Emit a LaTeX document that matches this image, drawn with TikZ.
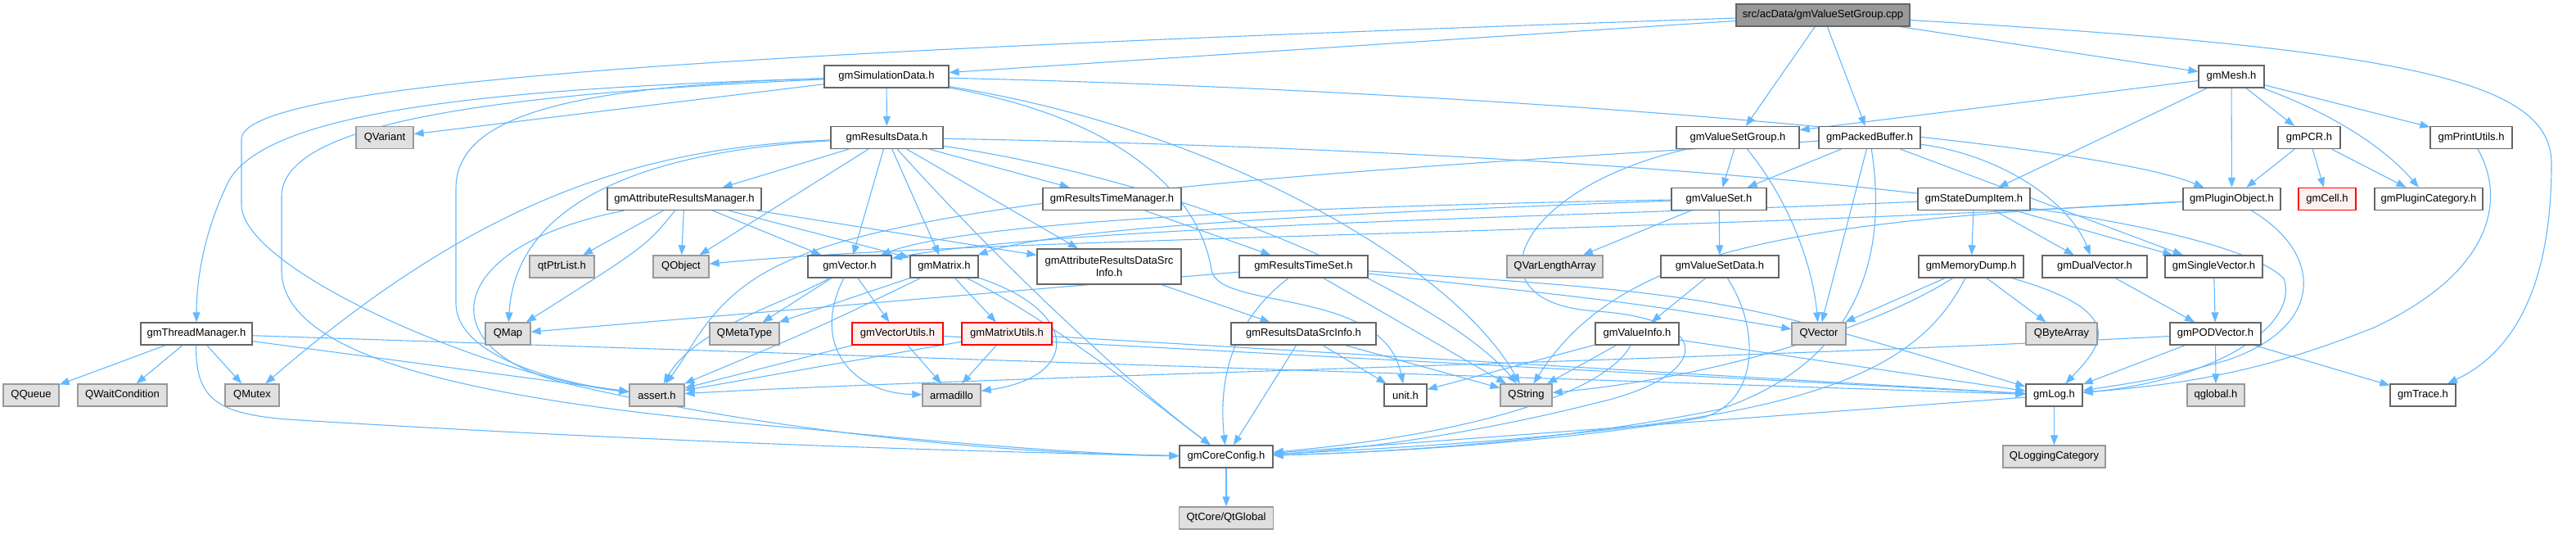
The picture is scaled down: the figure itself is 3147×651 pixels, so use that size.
\documentclass[tikz,border=0pt]{standalone}
\usepackage{fontspec}
\setmainfont{Liberation Sans}
\usepackage{tikz}
\usetikzlibrary{positioning, arrows.meta, backgrounds}
\definecolor{edgeblue}{HTML}{63B8FF}
\definecolor{boxgray}{HTML}{666666}
\definecolor{extgray}{HTML}{999999}
\definecolor{extfill}{HTML}{E0E0E0}
\definecolor{redfill}{HTML}{FFF0F0}
\tikzstyle{header} = [rectangle, minimum height=27pt, inner sep=0pt, text centered, draw=boxgray, fill=white, line width=1.3pt]
\tikzstyle{extern} = [header, draw=extgray, fill=extfill]
\tikzstyle{rootfile} = [header, draw=boxgray, fill=extgray]
\tikzstyle{missing} = [header, draw=red, fill=redfill]
\tikzstyle{arrow} = [line width=1.1pt, draw=edgeblue, ->, >={Triangle[length=12pt,width=9pt]}]
\tikzstyle{every node}=[font=\fontsize{13}{15}\selectfont]

\begin{document}
\begin{tikzpicture}[x=1pt, y=-1pt, node distance=75pt]
		\useasboundingbox (0,0) rectangle (3147,651);
		\node (root) [rootfile, minimum width=212pt] at (2227,18.5) {src/acData/gmValueSetGroup.cpp};
		\node (simdata) [header, minimum width=152pt] at (1083,93.5) {gmSimulationData.h};
		\node (mesh) [header, minimum width=80pt] at (2726,93.5) {gmMesh.h};
		\node (qvariant) [extern, minimum width=70pt] at (470,168) {QVariant};
		\node (resdata) [header, minimum width=137pt] at (1083.5,168) {gmResultsData.h};
		\node (vsgroup) [header, minimum width=150pt] at (2123,168) {gmValueSetGroup.h};
		\node (packbuf) [header, minimum width=124pt] at (2284,168) {gmPackedBuffer.h};
		\node (pcr) [header, minimum width=76pt] at (2821,168) {gmPCR.h};
		\node (printutils) [header, minimum width=100pt] at (3019,168) {gmPrintUtils.h};
		\node (attrmgr) [header, minimum width=188pt] at (836,243) {gmAttributeResultsManager.h};
		\node (restimemgr) [header, minimum width=169pt] at (1358.5,243) {gmResultsTimeManager.h};
		\node (valueset) [header, minimum width=116pt] at (2100,243) {gmValueSet.h};
		\node (statedump) [header, minimum width=137pt] at (2411.5,243) {gmStateDumpItem.h};
		\node (pluginobj) [header, minimum width=119pt] at (2726.5,243) {gmPluginObject.h};
		\node (cell) [missing, minimum width=70pt] at (2843,243) {gmCell.h};
		\node (plugincat) [header, minimum width=132pt] at (2967,243) {gmPluginCategory.h};
		\node (qtptrlist) [extern, minimum width=79pt] at (686.5,325.5) {qtPtrList.h};
		\node (qobject) [extern, minimum width=68pt] at (832,325.5) {QObject};
		\node (vector) [header, minimum width=102pt] at (1038,325.5) {gmVector.h};
		\node (matrix) [header, minimum width=83pt] at (1153.5,325.5) {gmMatrix.h};
		\node (attrsrc) [header, minimum width=176pt, minimum height=43pt, align=center] at (1355,325.5) {gmAttributeResultsDataSrc\\Info.h};
		\node (restimeset) [header, minimum width=157pt] at (1592.5,325.5) {gmResultsTimeSet.h};
		\node (qvarlen) [extern, minimum width=117pt] at (1899.5,325.5) {QVarLengthArray};
		\node (vsdata) [header, minimum width=144pt] at (2101,325.5) {gmValueSetData.h};
		\node (memdump) [header, minimum width=128pt] at (2408,325.5) {gmMemoryDump.h};
		\node (dualvec) [header, minimum width=128pt] at (2559,325.5) {gmDualVector.h};
		\node (singlevec) [header, minimum width=119pt] at (2704.5,325.5) {gmSingleVector.h};
		\node (threadmgr) [header, minimum width=136pt] at (240,407.5) {gmThreadManager.h};
		\node (qmap) [extern, minimum width=55pt] at (620.5,407.5) {QMap};
		\node (qmetatype) [extern, minimum width=85pt] at (909.5,407.5) {QMetaType};
		\node (vecutils) [missing, minimum width=111pt] at (1096.5,407.5) {gmVectorUtils.h};
		\node (matutils) [missing, minimum width=110pt] at (1230,407.5) {gmMatrixUtils.h};
		\node (ressrcinfo) [header, minimum width=177pt] at (1592.5,407.5) {gmResultsDataSrcInfo.h};
		\node (valueinfo) [header, minimum width=102pt] at (2000,407.5) {gmValueInfo.h};
		\node (qvector) [extern, minimum width=66pt] at (2222,407.5) {QVector};
		\node (qbytearray) [extern, minimum width=87pt] at (2518.5,407.5) {QByteArray};
		\node (podvec) [header, minimum width=111pt] at (2706.5,407.5) {gmPODVector.h};
		\node (qqueue) [extern, minimum width=68pt] at (38,482.5) {QQueue};
		\node (qwait) [extern, minimum width=109pt] at (149.5,482.5) {QWaitCondition};
		\node (qmutex) [extern, minimum width=66pt] at (308,482.5) {QMutex};
		\node (assert) [extern, minimum width=67pt] at (802.5,482.5) {assert.h};
		\node (armadillo) [extern, minimum width=71pt] at (1162.5,482.5) {armadillo};
		\node (unit) [header, minimum width=52pt] at (1717,482.5) {unit.h};
		\node (qstring) [extern, minimum width=63pt] at (1864.5,482.5) {QString};
		\node (log) [header, minimum width=69pt] at (2509.5,482.5) {gmLog.h};
		\node (qglobal) [extern, minimum width=70pt] at (2707,482.5) {qglobal.h};
		\node (trace) [header, minimum width=80pt] at (2960,482.5) {gmTrace.h};
		\node (coreconfig) [header, minimum width=114pt] at (1498,557.5) {gmCoreConfig.h};
		\node (qlogging) [extern, minimum width=125pt, below of=log] {QLoggingCategory};
		\node (qtglobal) [extern, minimum width=115pt, below of=coreconfig] {QtCore/QtGlobal};
		\begin{pgfonlayer}{background}
		\draw [arrow](root) -- (simdata);
		\draw [arrow](root) -- (vsgroup);
		\draw [arrow](root) -- (packbuf);
		\draw [arrow](root) -- (mesh);
		\draw [arrow](root) .. controls (2950,60) and (3117,100) .. (3117,200) .. controls (3117,380) and (3050,440) .. (trace);
		\draw [arrow](root) .. controls (1000,60) and (295,95) .. (295,170) -- (295,250) .. controls (295,330) and (600,460) .. (assert);
		\draw [arrow](simdata) -- (qvariant);
		\draw [arrow](simdata) -- (resdata);
		\draw [arrow](simdata) .. controls (600,108) and (330,135) .. (280,220) .. controls (250,280) and (240,340) .. (threadmgr);
		\draw [arrow](simdata) .. controls (700,105) and (557,140) .. (557,230) -- (557,370) .. controls (557,440) and (700,470) .. (assert);
		\draw [arrow](simdata) .. controls (600,115) and (344,150) .. (344,240) -- (344,330) .. controls (344,460) and (700,500) .. (1000,525) .. controls (1200,545) and (1350,555) .. (coreconfig);
		\draw [arrow](simdata) .. controls (1800,110) and (2550,170) .. (pluginobj);
		\draw [arrow](simdata) .. controls (1500,160) and (1780,330) .. (qstring);
		\draw [arrow](simdata) .. controls (1400,150) and (1470,260) .. (1480,330) .. controls (1490,380) and (1690,350) .. (unit);
		\draw [arrow](mesh) -- (vsgroup);
		\draw [arrow](mesh) -- (statedump);
		\draw [arrow](mesh) -- (pluginobj);
		\draw [arrow](mesh) -- (pcr);
		\draw [arrow](mesh) .. controls (2880,150) and (2930,200) .. (plugincat);
		\draw [arrow](mesh) -- (printutils);
		\draw [arrow](pcr) -- (pluginobj);
		\draw [arrow](pcr) -- (cell);
		\draw [arrow](pcr) -- (plugincat);
		\draw [arrow](printutils) .. controls (3060,240) and (3050,330) .. (2900,400) .. controls (2750,460) and (2650,470) .. (log);
		\draw [arrow](pluginobj) .. controls (2840,310) and (2840,400) .. (2720,440) .. controls (2640,462) .. (log);
		\draw [arrow](pluginobj) .. controls (2200,270) and (1980,300) .. (qstring);
		\draw [arrow](pluginobj) .. controls (2000,285) and (1200,290) .. (qobject);
		\draw [arrow](vsgroup) -- (valueset);
		\draw [arrow](vsgroup) .. controls (2190,250) and (2215,330) .. (qvector);
		\draw [arrow](vsgroup) .. controls (1850,230) and (1790,370) .. (1950,380) .. controls (2100,390) and (2090,460) .. (1950,492) .. controls (1800,530) and (1650,550) .. (coreconfig);
		\draw [arrow](packbuf) -- (valueset);
		\draw [arrow](packbuf) -- (qvector);
		\draw [arrow](packbuf) .. controls (2305,300) and (2280,440) .. (2100,500) .. controls (1900,540) and (1700,552) .. (coreconfig);
		\draw [arrow](packbuf) .. controls (2450,190) and (2530,250) .. (dualvec);
		\draw [arrow](packbuf) -- (singlevec);
		\draw [arrow](packbuf) .. controls (1800,200) and (1150,230) .. (960,320) .. controls (870,360) and (850,420) .. (assert);
		\draw [arrow](resdata) -- (attrmgr);
		\draw [arrow](resdata) -- (restimemgr);
		\draw [arrow](resdata) -- (qobject);
		\draw [arrow](resdata) -- (vector);
		\draw [arrow](resdata) -- (matrix);
		\draw [arrow](resdata) -- (attrsrc);
		\draw [arrow](resdata) .. controls (800,180) and (600,230) .. (qmutex);
		\draw [arrow](resdata) .. controls (780,185) and (630,250) .. (qmap);
		\draw [arrow](resdata) .. controls (2000,185) and (2700,250) .. (2790,340) .. controls (2810,400) and (2700,465) .. (log);
		\draw [arrow](resdata) .. controls (1500,230) and (1780,380) .. (qstring);
		\draw [arrow](resdata) .. controls (1220,320) and (1380,470) .. (coreconfig);
		\draw [arrow](attrmgr) -- (qtptrlist);
		\draw [arrow](attrmgr) -- (qobject);
		\draw [arrow](attrmgr) -- (vector);
		\draw [arrow](attrmgr) -- (matrix);
		\draw [arrow](attrmgr) -- (attrsrc);
		\draw [arrow](attrmgr) .. controls (790,300) .. (qmap);
		\draw [arrow](attrmgr) .. controls (540,300) and (520,430) .. (700,470) .. controls (1000,540) and (1300,555) .. (coreconfig);
		\draw [arrow](restimemgr) -- (restimeset);
		\draw [arrow](attrsrc) -- (ressrcinfo);
		\draw [arrow](restimeset) -- (qmap);
		\draw [arrow](restimeset) -- (qstring);
		\draw [arrow](restimeset) .. controls (2100,360) .. (log);
		\draw [arrow](restimeset) .. controls (2000,370) .. (qvector);
		\draw [arrow](restimeset) .. controls (1495,400) and (1490,480) .. (coreconfig);
		\draw [arrow](ressrcinfo) -- (coreconfig);
		\draw [arrow](ressrcinfo) -- (unit);
		\draw [arrow](ressrcinfo) -- (qstring);
		\draw [arrow](vector) -- (qmetatype);
		\draw [arrow](vector) -- (vecutils);
		\draw [arrow](vector) .. controls (960,370) and (850,400) .. (assert);
		\draw [arrow](vector) .. controls (990,420) and (1040,480) .. (armadillo);
		\draw [arrow](matrix) -- (qmetatype);
		\draw [arrow](matrix) -- (matutils);
		\draw [arrow](matrix) .. controls (1000,400) .. (assert);
		\draw [arrow](matrix) .. controls (1320,380) and (1320,460) .. (armadillo);
		\draw [arrow](matrix) .. controls (1300,400) and (1420,500) .. (coreconfig);
		\draw [arrow](vecutils) -- (armadillo);
		\draw [arrow](vecutils) -- (assert);
		\draw [arrow](vecutils) -- (log);
		\draw [arrow](matutils) -- (armadillo);
		\draw [arrow](matutils) -- (assert);
		\draw [arrow](matutils) -- (log);
		\draw [arrow](valueset) -- (vsdata);
		\draw [arrow](valueset) -- (qvarlen);
		\draw [arrow](valueset) .. controls (1700,250) and (1200,265) .. (vector);
		\draw [arrow](valueset) .. controls (1700,258) and (1300,275) .. (matrix);
		\draw [arrow](statedump) -- (memdump);
		\draw [arrow](statedump) -- (dualvec);
		\draw [arrow](statedump) -- (singlevec);
		\draw [arrow](statedump) .. controls (2000,262) and (1300,275) .. (vector);
		\draw [arrow](vsdata) -- (valueinfo);
		\draw [arrow](vsdata) .. controls (2150,400) and (2150,490) .. (2080,510) .. controls (1900,540) and (1700,552) .. (coreconfig);
		\draw [arrow](valueinfo) -- (unit);
		\draw [arrow](valueinfo) -- (qstring);
		\draw [arrow](valueinfo) -- (log);
		\draw [arrow](valueinfo) .. controls (1960,480) and (1800,530) .. (coreconfig);
		\draw [arrow](memdump) -- (qvector);
		\draw [arrow](memdump) -- (qbytearray);
		\draw [arrow](memdump) .. controls (2600,380) and (2570,420) .. (log);
		\draw [arrow](memdump) .. controls (2290,400) and (2100,460) .. (qstring);
		\draw [arrow](memdump) .. controls (2330,480) and (2150,525) .. (coreconfig);
		\draw [arrow](dualvec) -- (podvec);
		\draw [arrow](singlevec) -- (podvec);
		\draw [arrow](podvec) -- (qglobal);
		\draw [arrow](podvec) -- (trace);
		\draw [arrow](podvec) -- (log);
		\draw [arrow](podvec) .. controls (2100,440) and (1200,460) .. (assert);
		\draw [arrow](threadmgr) -- (qqueue);
		\draw [arrow](threadmgr) -- (qwait);
		\draw [arrow](threadmgr) -- (qmutex);
		\draw [arrow](threadmgr) -- (assert);
		\draw [arrow](threadmgr) -- (log);
		\draw [arrow](threadmgr) .. controls (238,490) and (270,505) .. (350,512) .. controls (800,540) and (1200,552) .. (coreconfig);
		\draw [arrow](log) -- (qlogging);
		\draw [arrow](log) -- (coreconfig);
		\draw [arrow](coreconfig) -- (qtglobal);
		\end{pgfonlayer}
	\end{tikzpicture}
\end{document}
